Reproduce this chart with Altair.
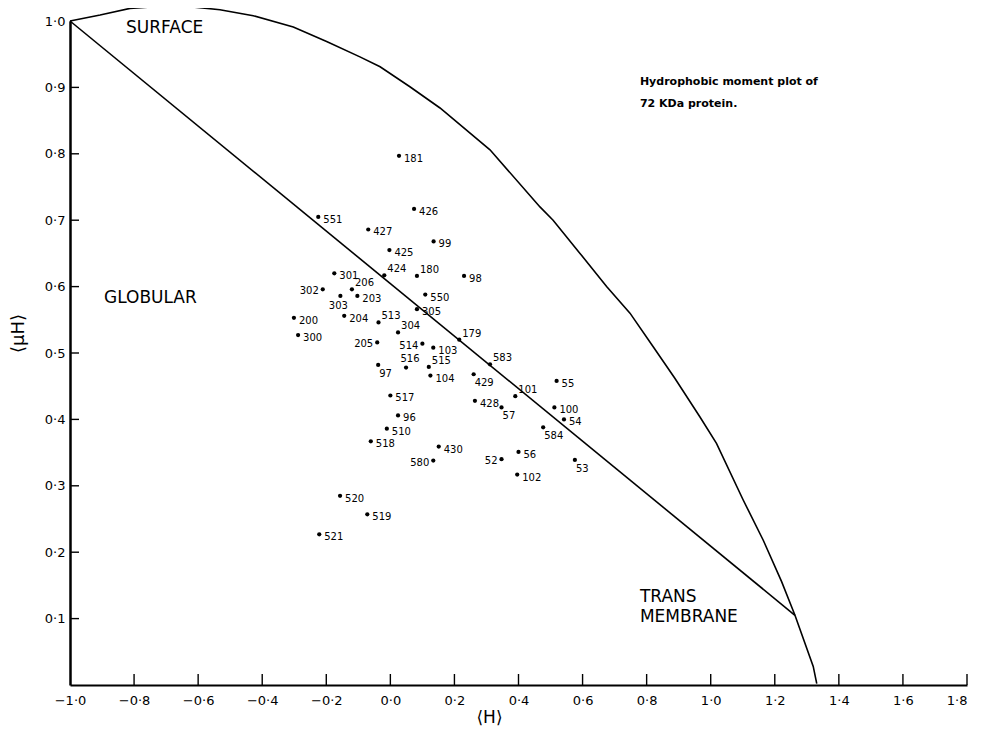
import altair as alt
import pandas as pd

# ---- data ----
labels = ["181","426","551","427","99","425","301","424","180","98","302","206","203","550","303",
          "200","204","513","305","300","304","205","514","103","179","97","516","515","104","583",
          "429","517","428","101","57","96","510","518","430","580","520","519","521","55","100",
          "54","584","56","52","102","53"]
h_vals = [0.027,0.074,-0.225,-0.069,0.135,-0.003,-0.175,-0.019,0.083,0.230,-0.211,-0.120,-0.103,0.109,-0.156,
          -0.301,-0.144,-0.037,0.083,-0.288,0.024,-0.041,0.100,0.134,0.215,-0.038,0.049,0.120,0.125,0.311,
          0.260,0.000,0.264,0.390,0.347,0.024,-0.011,-0.061,0.151,0.134,-0.157,-0.072,-0.222,0.519,0.512,
          0.542,0.477,0.400,0.347,0.396,0.576]
mu_vals = [0.797,0.717,0.705,0.686,0.668,0.655,0.620,0.617,0.616,0.616,0.596,0.596,0.586,0.588,0.586,
           0.553,0.556,0.546,0.566,0.527,0.531,0.516,0.514,0.508,0.520,0.482,0.478,0.479,0.466,0.483,
           0.468,0.436,0.428,0.435,0.418,0.406,0.386,0.367,0.359,0.338,0.285,0.257,0.227,0.458,0.418,
           0.400,0.388,0.351,0.340,0.317,0.339]
# label side: r=right, ru=right-up, rd=right-down, l=left, a=above, b=below
label_side = ["r","r","r","r","r","r","r","ru","ru","r","l","ru","r","r","b",
              "r","r","ru","r","r","ru","l","l","r","ru","rd","a","ru","r","ru",
              "rd","r","r","ru","rd","r","r","r","r","l","r","r","r","r","r",
              "r","rd","r","l","r","rd"]

# outer boundary curve (surface / transmembrane envelope)
curve_h = [-1.0,-0.906,-0.813,-0.719,-0.636,-0.532,-0.428,-0.303,-0.199,-0.095,-0.032,0.061,0.155,0.311,
           0.467,0.508,0.592,0.675,0.748,0.821,0.888,0.966,1.018,1.101,1.164,1.221,1.263,1.320,1.331]
curve_mu = [1.0,1.009,1.019,1.022,1.022,1.017,1.008,0.991,0.969,0.946,0.931,0.901,0.869,0.806,
            0.720,0.700,0.650,0.600,0.560,0.509,0.462,0.404,0.364,0.279,0.218,0.156,0.105,0.028,0.002]
# globular / surface dividing line
line_h = [-1.0, 1.263]
line_mu = [1.0, 0.105]

x_ticks = [-0.8,-0.6,-0.4,-0.2,0.0,0.2,0.4,0.6,0.8,1.0,1.2,1.4,1.6,1.8]
x_labels = [-1.0] + x_ticks
y_ticks = [0.1,0.2,0.3,0.4,0.5,0.6,0.7,0.8,0.9]
y_labels = y_ticks + [1.0]

region_text = ["SURFACE","GLOBULAR","TRANS","MEMBRANE"]
region_h = [-0.825,-0.894,0.779,0.779]
region_mu = [0.989,0.583,0.133,0.102]
note_text = ["Hydrophobic moment plot of","72 KDa protein."]
note_h = [0.779,0.779]
note_mu = [0.908,0.875]

W, H = 897, 664
FONT = "DejaVu Sans"
XTICK_LEN = 11
YTICK_LEN = 9

pts = pd.DataFrame({"x": h_vals, "y": mu_vals, "label": labels, "side": label_side})
curve = pd.DataFrame({"x": curve_h, "y": curve_mu, "o": list(range(len(curve_h)))})
divl = pd.DataFrame({"x": line_h, "y": line_mu, "o": [0, 1]})
xt = pd.DataFrame({"x": x_ticks})
yt = pd.DataFrame({"y": y_ticks})
regions = pd.DataFrame({"x": region_h, "y": region_mu, "t": region_text})
notes = pd.DataFrame({"x": note_h, "y": note_mu, "t": note_text})

lab_expr = "replace(format(datum.value, '.1f'), '.', '·')"
xscale = alt.Scale(domain=[-1.0, 1.8], nice=False, zero=False)
yscale = alt.Scale(domain=[0.0, 1.0], nice=False, zero=False)
xaxis = alt.Axis(values=x_labels, labelExpr=lab_expr, title="⟨H⟩", ticks=False, grid=False,
                 domainColor="black", domainWidth=2, labelColor="black", labelFont=FONT,
                 labelFontSize=13, labelPadding=9, titleFont=FONT, titleFontSize=17,
                 titleFontWeight="normal", titleX=419, titleY=32, titleBaseline="middle",
                 titleAlign="center", labelFlush=False,
                 labelAlign={"expr": "datum.value > 1.7 ? 'right' : 'center'"})
yaxis = alt.Axis(values=y_labels, labelExpr=lab_expr, title="⟨μH⟩", ticks=False, grid=False,
                 domainColor="black", domainWidth=2.5, labelColor="black", labelFont=FONT,
                 labelFontSize=13, labelPadding=5, titleFont=FONT, titleFontSize=18,
                 titleFontWeight="normal", titleX=-52, titleY=312, titleBaseline="middle",
                 titleAlign="center", titleAngle=270, labelFlush=False)

def X():
    return alt.X("x:Q", scale=xscale, axis=xaxis)

def Y():
    return alt.Y("y:Q", scale=yscale, axis=yaxis)

outer = alt.Chart(curve).mark_line(color="black", strokeWidth=1.6).encode(x=X(), y=Y(), order="o:Q")
divide = alt.Chart(divl).mark_line(color="black", strokeWidth=1.6).encode(x=X(), y=Y(), order="o:Q")
xtick = alt.Chart(xt).mark_rule(color="black", strokeWidth=1.4, opacity=1).encode(
    x=X(),
    y=alt.YDatum(0.0, scale=yscale, axis=yaxis),
    y2=alt.Y2Datum(XTICK_LEN / H),
)
ytick = alt.Chart(yt).mark_rule(color="black", strokeWidth=1.4, opacity=1).encode(
    y=Y(),
    x=alt.XDatum(-1.0, scale=xscale, axis=xaxis),
    x2=alt.X2Datum(-1.0 + YTICK_LEN * 2.8 / W),
)
dots = alt.Chart(pts).mark_circle(color="black", opacity=1, size=18).encode(x=X(), y=Y())

placements = {
    "r": dict(dx=5, dy=3, align="left"),
    "ru": dict(dx=3, dy=-6, align="left"),
    "rd": dict(dx=1, dy=9, align="left"),
    "l": dict(dx=-4, dy=2, align="right"),
    "a": dict(dx=4, dy=-9, align="center"),
    "b": dict(dx=-2, dy=10, align="center"),
}
text_layers = []
for code, kw in placements.items():
    text_layers.append(
        alt.Chart(pts).transform_filter(alt.datum.side == code)
        .mark_text(font=FONT, fontSize=10, color="black", baseline="middle", **kw)
        .encode(x=X(), y=Y(), text="label:N")
    )

region_lbl = alt.Chart(regions).mark_text(font=FONT, fontSize=17, color="black", align="left",
                                          baseline="middle").encode(x=X(), y=Y(), text="t:N")
note_lbl = alt.Chart(notes).mark_text(font=FONT, fontSize=11, fontWeight="bold", color="black",
                                      align="left", baseline="middle").encode(x=X(), y=Y(), text="t:N")

chart = alt.layer(outer, divide, xtick, ytick, dots, *text_layers, region_lbl, note_lbl).properties(
    width=W, height=H,
    autosize=alt.AutoSizeParams(type="none"),
    padding={"left": 62, "top": 13, "right": 9, "bottom": 42},
    background="white",
).configure_view(stroke=None)

chart.save("out.html", embed_options={"renderer": "svg", "actions": False})
